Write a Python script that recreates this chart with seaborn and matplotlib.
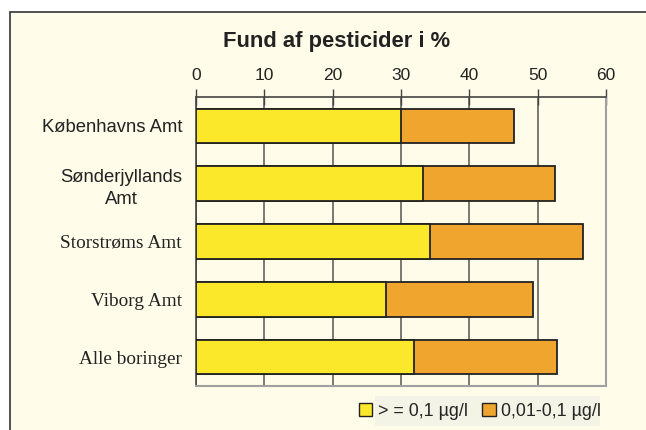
import pandas as pd
import numpy as np
import matplotlib.pyplot as plt
import matplotlib.patches as mpatches
import seaborn as sns

# data
amter = ["Københavns Amt", "Sønderjyllands\nAmt", "Storstrøms Amt", "Viborg Amt", "Alle boringer"]
hoej = [30.0, 33.2, 34.3, 27.8, 31.9]      # > = 0,1 µg/l
lav = [16.6, 19.3, 22.3, 21.5, 20.9]       # 0,01-0,1 µg/l
label_fonts = ["Liberation Sans", "Liberation Sans", "Liberation Serif", "Liberation Serif", "Liberation Serif"]

df = pd.DataFrame({"Amt": amter, "hoej": hoej, "lav": lav})
df["total"] = df["hoej"] + df["lav"]

bg = "#FFFCE9"
yellow = "#FCE82A"
orange = "#F0A52E"

sns.set_style("white")
plt.rcParams["font.family"] = ["Liberation Sans", "DejaVu Sans"]

fig = plt.figure(figsize=(6.46, 4.30), dpi=100, facecolor="white")
# cream panel with dark frame, running off the right and bottom edge
fig.patches.append(mpatches.Rectangle((10 / 646, -0.1), 1.0, 1 - 12 / 430 + 0.1,
                                      transform=fig.transFigure, facecolor=bg,
                                      edgecolor="#333333", lw=1.2, zorder=-5))
# grey box behind the legend
fig.patches.append(mpatches.Rectangle((375 / 646, 1 - 426 / 430), 225 / 646, 30 / 430,
                                      transform=fig.transFigure, facecolor="#F3F3E6",
                                      edgecolor="none", zorder=-4))
ax = fig.add_axes([196 / 646, 1 - 386 / 430, 410 / 646, 289 / 430])
ax.set_facecolor(bg)

sns.barplot(data=df, x="total", y="Amt", orient="h", color=orange, width=0.6, saturation=1,
            edgecolor="#222222", linewidth=1.3, ax=ax, zorder=3)
sns.barplot(data=df, x="hoej", y="Amt", orient="h", color=yellow, width=0.6, saturation=1,
            edgecolor="#222222", linewidth=1.3, ax=ax, zorder=4)

ax.set_xlim(0, 60)
ax.set_ylim(4.5, -0.5)
ax.set_xlabel("")
ax.set_ylabel("")
ax.xaxis.tick_top()
ax.set_xticks(np.arange(0, 61, 10))
ax.tick_params(axis="x", direction="inout", length=12, width=1, color="#444444",
               labelsize=12.5, pad=4, labelcolor="#222222")
ax.xaxis.grid(True, color="#555555", lw=1.1, zorder=0)
ax.set_axisbelow(True)

# category labels in the centre, ticks on boundaries
ax.set_yticks(range(len(amter)))
ax.set_yticklabels(amter, fontsize=13.3, color="#222222")
for lab, fam in zip(ax.get_yticklabels(), label_fonts):
    lab.set_fontfamily(fam)
    lab.set_multialignment("center")
    lab.set_linespacing(1.4)
    if fam == "Liberation Serif":
        lab.set_fontsize(13.9)
ax.tick_params(axis="y", length=0, pad=10)
ax.set_yticks(np.arange(-0.5, 4.6, 1), minor=True)
ax.tick_params(axis="y", which="minor", direction="out", length=6, width=1, color="#444444")

for s in ["top", "left"]:
    ax.spines[s].set_color("#444444")
    ax.spines[s].set_linewidth(1.2)
for s in ["right", "bottom"]:
    ax.spines[s].set_color("#A0A0A0")
    ax.spines[s].set_linewidth(1.5)

fig.text(337 / 646, 1 - 47 / 430, "Fund af pesticider i %", ha="center", va="baseline",
         fontsize=15.8, fontweight="bold", color="#222222")

handles = [mpatches.Patch(facecolor=yellow, edgecolor="#222222", label="> = 0,1 µg/l"),
           mpatches.Patch(facecolor=orange, edgecolor="#222222", label="0,01-0,1 µg/l")]
leg = fig.legend(handles=handles, loc="center", bbox_to_anchor=(480 / 646, 1 - 411 / 430),
                 ncol=2, frameon=False, fontsize=12.9, handlelength=0.75, handleheight=0.75,
                 handletextpad=0.3, columnspacing=0.8, borderpad=0.3)

plt.savefig("out.png", dpi=100, facecolor=fig.get_facecolor())
